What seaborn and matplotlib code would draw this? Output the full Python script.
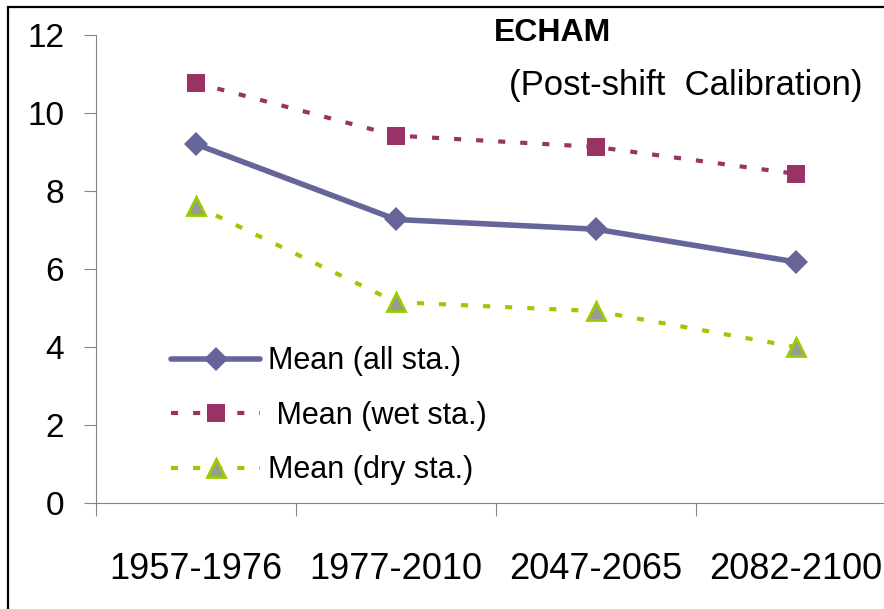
import matplotlib
matplotlib.use("Agg")
import matplotlib.pyplot as plt
import seaborn as sns
import pandas as pd
from matplotlib.patches import Rectangle
from matplotlib.ticker import FixedLocator

periods = ["1957-1976", "1977-2010", "2047-2065", "2082-2100"]
mean_all = [9.2, 7.27, 7.02, 6.18]
mean_wet = [10.77, 9.42, 9.13, 8.44]
mean_dry = [7.62, 5.15, 4.92, 4.0]

sns.set_theme(style="white")
plt.rcParams["font.family"] = ["Liberation Sans", "DejaVu Sans"]
plt.rcParams["text.color"] = "black"
plt.rcParams["xtick.color"] = "black"
plt.rcParams["ytick.color"] = "black"

fig = plt.figure(figsize=(8.84, 6.09), dpi=100)
ax = fig.add_axes([96 / 884, 1 - 503 / 609, 800 / 884, 468 / 609])

df = pd.DataFrame({"pos": range(len(periods)), "all": mean_all,
                   "wet": mean_wet, "dry": mean_dry})

sns.lineplot(data=df, x="pos", y="all", ax=ax, color="#65659a", lw=4,
             marker="D", markersize=12, markeredgewidth=0,
             label="Mean (all sta.)")
sns.lineplot(data=df, x="pos", y="wet", ax=ax, color="#993366", lw=3,
             linestyle=(0, (1.7, 3.6)), marker="s", markersize=13,
             markeredgewidth=0, label=" Mean (wet sta.)")
sns.lineplot(data=df, x="pos", y="dry", ax=ax, color="#99cc00", lw=3,
             linestyle=(0, (1.7, 3.6)), marker="^", markersize=13,
             markerfacecolor="#999999", markeredgecolor="#99cc00",
             markeredgewidth=2, label="Mean (dry sta.)")

ax.set_xlim(-0.5, 3.5)
ax.set_ylim(0, 12)
ax.set_yticks(range(0, 13, 2))
ax.set_xticks(range(len(periods)))
ax.set_xticklabels(periods, fontsize=26)
ax.xaxis.set_minor_locator(FixedLocator([-0.5, 0.5, 1.5, 2.5, 3.5]))
ax.tick_params(axis="x", which="major", length=0, pad=35, labelcolor="black")
ax.tick_params(axis="x", which="minor", bottom=True, length=9,
               width=0.8, color="#868686", direction="out")
ax.tick_params(axis="y", left=True, length=9, width=0.8, color="#868686",
               direction="out", pad=14, labelsize=24, labelcolor="black")
ax.set_xlabel("")
ax.set_ylabel("")
for side in ["top", "right"]:
    ax.spines[side].set_visible(False)
for side in ["left", "bottom"]:
    ax.spines[side].set_color("#868686")
    ax.spines[side].set_linewidth(0.8)

leg = ax.legend(loc="lower left", bbox_to_anchor=(0.075, 0.005),
                frameon=False, fontsize=22, handlelength=2.9,
                handletextpad=0.25, labelspacing=0.8, borderpad=0)
for t in leg.get_texts():
    t.set_color("black")

fig.text(553 / 884, 1 - 33 / 609, "ECHAM", fontsize=23, fontweight="bold",
         ha="center", va="center", color="black")
fig.text(686 / 884, 1 - 85 / 609, "(Post-shift  Calibration)", fontsize=25,
         ha="center", va="center", color="black")

fig.patches.append(Rectangle((8 / 884, -0.1), 1.2, 1 - 7 / 609 + 0.1,
                             transform=fig.transFigure, fill=False,
                             edgecolor="black", linewidth=1.6))

fig.savefig("out.png", dpi=100)
